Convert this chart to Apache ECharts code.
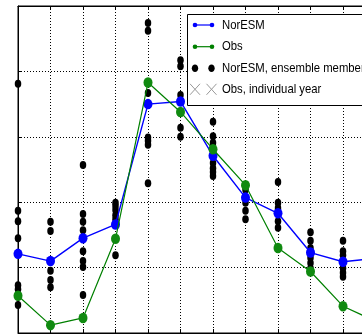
<!DOCTYPE html>
<html lang="en">

<head>
  <meta charset="UTF-8">
  <title>NorESM vs Obs</title>
  <script src="https://cdn.jsdelivr.net/npm/echarts@6/dist/echarts.min.js"></script>
  <style>
    html, body { margin: 0; padding: 0; background: #fff; }
  </style>
</head>

<body>
  <div id="main" style="width: 362px;height:336px;"></div>
  <script>
    var months = [1, 2, 3, 4, 5, 6, 7, 8, 9, 10, 11, 12];
    // model mean and observations
    var noresm = [1.21, 1.10, 1.45, 1.66, 3.50, 3.54, 2.71, 2.07, 1.83, 1.23, 1.09, 1.14];
    var obs = [0.57, 0.12, 0.23, 1.44, 3.83, 3.38, 2.81, 2.26, 1.30, 0.94, 0.41, 0.18];
    // ensemble members, one list per month
    var members = [
      [3.81, 1.87, 1.71, 1.45, 1.21, 0.73, 0.67, 0.43],
      [1.70, 1.56, 1.10, 0.95, 0.81, 0.70],
      [2.57, 1.82, 1.70, 1.57, 1.25, 1.10, 1.01, 0.58],
      [1.99, 1.94, 1.88, 1.80, 1.74, 1.66, 1.19],
      [4.74, 4.62, 3.67, 2.99, 2.94, 2.88, 2.29],
      [4.17, 4.08, 3.64, 3.14, 3.00],
      [3.23, 3.01, 2.91, 2.60, 2.52, 2.46, 2.40],
      [2.19, 1.99, 1.87, 1.74],
      [2.31, 1.99, 1.91, 1.83, 1.71, 1.61],
      [1.54, 1.41, 1.30, 1.15, 1.07, 0.99],
      [1.41, 1.25, 1.19, 0.99, 0.92, 0.86],
      [1.40, 1.25, 1.10, 1.00]
    ];
    var legendNames = ['NorESM', 'Obs', 'NorESM, ensemble members', 'Obs, individual year'];

    var memberPts = [];
    members.forEach(function (list, i) {
      list.forEach(function (v) { memberPts.push([months[i], v]); });
    });
    function pairs(arr) {
      return arr.map(function (v, i) { return [months[i], v]; });
    }

    var dotted = { color: '#000', width: 1, type: [1, 2] };
    var myChart = echarts.init(document.getElementById('main'));

    // legend drawn by hand (icons are not standard)
    var lx = 187.5, ly = 14.5;
    var rows = [25, 46.7, 68.3, 89.3];
    var g = [{
      type: 'rect', z: 100,
      shape: { x: lx, y: ly, width: 220, height: 91 },
      style: { fill: '#fff', stroke: '#000', lineWidth: 1 }
    }];
    ['#0000ff', '#008000'].forEach(function (c, i) {
      g.push({ type: 'line', z: 101, shape: { x1: 195, y1: rows[i], x2: 212, y2: rows[i] }, style: { stroke: c, lineWidth: 1.2 } });
      g.push({ type: 'circle', z: 102, shape: { cx: 195, cy: rows[i], r: 2.3 }, style: { fill: c } });
      g.push({ type: 'circle', z: 102, shape: { cx: 212, cy: rows[i], r: 2.3 }, style: { fill: c } });
    });
    [195, 211.5].forEach(function (x) {
      g.push({ type: 'ellipse', z: 102, shape: { cx: x, cy: rows[2], rx: 3.2, ry: 3.8 }, style: { fill: '#000' } });
      g.push({ type: 'line', z: 102, shape: { x1: x - 5, y1: rows[3] - 5.5, x2: x + 5, y2: rows[3] + 5.5 }, style: { stroke: '#999', lineWidth: 1 } });
      g.push({ type: 'line', z: 102, shape: { x1: x - 5, y1: rows[3] + 5.5, x2: x + 5, y2: rows[3] - 5.5 }, style: { stroke: '#999', lineWidth: 1 } });
    });
    legendNames.forEach(function (name, i) {
      g.push({
        type: 'text', z: 103, x: 222, y: rows[i], scaleX: 0.87,
        style: { text: name, fill: '#000', font: '13px "Liberation Sans", Arial, sans-serif', verticalAlign: 'middle' }
      });
    });

    var option = {
      animation: false,
      backgroundColor: '#fff',
      grid: {
        left: 18, top: 6, width: 357.5, height: 327, outerBoundsMode: 'none',
        show: true, borderColor: '#000', borderWidth: 1
      },
      xAxis: [{
        type: 'value', min: 1, max: 12, interval: 1, position: 'bottom',
        axisLine: { show: true, lineStyle: { color: '#000' } },
        axisTick: { show: true, inside: true, length: 4, lineStyle: { color: '#000' } },
        axisLabel: { show: false },
        splitLine: { show: true, lineStyle: dotted }
      }, {
        type: 'value', min: 1, max: 12, interval: 1, position: 'top',
        axisLine: { show: true, lineStyle: { color: '#000' } },
        axisTick: { show: true, inside: true, length: 4, lineStyle: { color: '#000' } },
        axisLabel: { show: false },
        splitLine: { show: false }
      }],
      yAxis: {
        type: 'value', min: 0, max: 5, interval: 1,
        axisLine: { show: true, lineStyle: { color: '#000' } },
        axisTick: { show: true, inside: true, length: 4, lineStyle: { color: '#000' } },
        axisLabel: { show: false },
        splitLine: { show: true, lineStyle: dotted }
      },
      series: [{
        name: legendNames[2], type: 'scatter', data: memberPts,
        symbol: 'circle', symbolSize: [6.5, 8],
        itemStyle: { color: '#000', opacity: 1 }, z: 2
      }, {
        name: legendNames[0], type: 'line', data: pairs(noresm),
        symbol: 'circle', symbolSize: [9, 10.5],
        lineStyle: { color: '#0000ff', width: 1.4 },
        itemStyle: { color: '#0000ff' }, z: 3
      }, {
        name: legendNames[1], type: 'line', data: pairs(obs),
        symbol: 'circle', symbolSize: [9, 10.5],
        lineStyle: { color: '#008000', width: 1.2 },
        itemStyle: { color: '#108a10' }, z: 4
      }],
      graphic: g
    };
    myChart.setOption(option);
  </script>
</body>

</html>
